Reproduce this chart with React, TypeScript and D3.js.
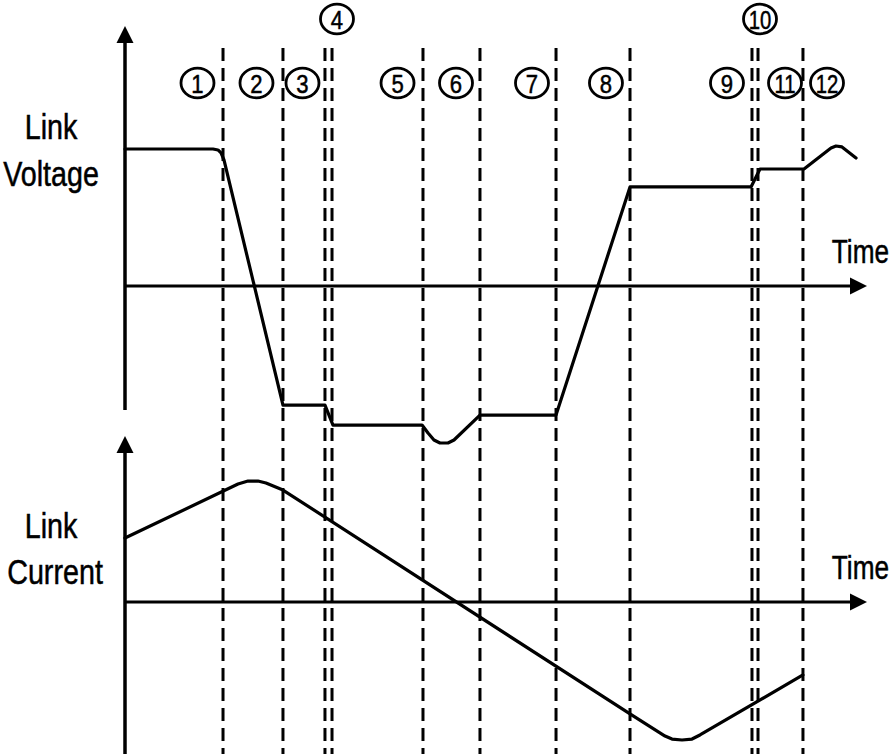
import React from 'react';
import * as d3 from 'd3';

// Phase boundary times (dashed vertical lines), in arbitrary time units 0..100
const boundaryTimes = [13.21, 21.29, 26.95, 27.9, 40.16, 47.84, 58.09, 68.06, 84.5, 85.31, 91.37];

// Circled phase labels
const phaseLabels = ['1', '2', '3', '4', '5', '6', '7', '8', '9', '10', '11', '12'];
const phaseLabelTimes = [9.77, 17.72, 23.92, 28.57, 36.73, 44.61, 54.85, 64.82, 81.13, 85.58, 88.95, 94.61];
const phaseLabelRaised = [false, false, false, true, false, false, false, false, false, true, false, false];

// Link voltage waveform (normalised: 1 = initial level)
const voltageTimes = [0, 11.86, 12.53, 12.94, 13.34, 21.29, 26.95, 28.03, 40.03, 40.84, 41.64, 42.45, 43.53, 44.34, 47.84, 58.09, 68.06, 84.37, 85.58, 91.51, 95.15, 95.82, 96.63, 98.52];
const voltageValues = [1.0, 1.0, 0.993, 0.971, 0.92, -0.869, -0.869, -1.015, -1.015, -1.073, -1.124, -1.146, -1.146, -1.124, -0.942, -0.942, 0.723, 0.723, 0.854, 0.854, 1.007, 1.022, 1.015, 0.934];

// Link current waveform (normalised: 1 = peak)
const currentTimes = [0, 15.23, 16.58, 17.92, 19.0, 21.29, 68.06, 72.78, 73.72, 75.07, 76.42, 77.49, 91.37];
const currentValues = [0.533, 0.983, 1.008, 1.008, 0.992, 0.933, -0.933, -1.117, -1.142, -1.15, -1.142, -1.108, -0.608];

const W = 894;
const H = 754;
const FONT = "'Liberation Sans', Arial, sans-serif";

function NarrowText(props: { x: number; y: number; size: number; sx: number; anchor: string; children: string }) {
  const { x, y, size, sx, anchor, children } = props;
  return (
    <text transform={`translate(${x},${y}) scale(${sx},1)`} textAnchor={anchor} fontFamily={FONT}
      fontSize={size} fill="#000" stroke="#000" strokeWidth={0.5}>{children}</text>
  );
}

export default function App() {
  const x = d3.scaleLinear().domain([0, 100]).range([125, 867]);
  const yV = d3.scaleLinear().domain([0, 1]).range([286, 149]);
  const yI = d3.scaleLinear().domain([0, 1]).range([602, 482]);

  const vPts: [number, number][] = voltageTimes.map((t, i) => [x(t), yV(voltageValues[i])]);
  const iPts: [number, number][] = currentTimes.map((t, i) => [x(t), yI(currentValues[i])]);
  const line = d3.line();

  const axisX = x(0);
  const tipX = x(100);
  const yV0 = yV(0);
  const yI0 = yI(0);

  const upTop = 26;
  const upBottom = 410;
  const loTop = 436;
  const loBottom = H;

  const head = 17;
  const halfW = 8.5;

  const stroke = '#000';

  return (
    <svg width={W} height={H} viewBox={`0 0 ${W} ${H}`} style={{ position: 'absolute', left: 0, top: 0, display: 'block', background: '#fff' }}>
      <rect x={0} y={0} width={W} height={H} fill="#fff" />

      {/* dashed phase boundaries */}
      {boundaryTimes.map((t, i) => (
        <line key={'b' + i} x1={x(t)} x2={x(t)} y1={48} y2={H} stroke={stroke} strokeWidth={3} strokeDasharray="13 7" />
      ))}

      {/* upper vertical axis */}
      <line x1={axisX} x2={axisX} y1={upTop + head - 1} y2={upBottom} stroke={stroke} strokeWidth={3.5} />
      <path d={`M${axisX},${upTop} L${axisX - halfW},${upTop + head} L${axisX + halfW},${upTop + head} Z`} fill={stroke} />
      {/* upper time axis */}
      <line x1={axisX} x2={tipX - head + 1} y1={yV0} y2={yV0} stroke={stroke} strokeWidth={3} />
      <path d={`M${tipX},${yV0} L${tipX - head},${yV0 - halfW} L${tipX - head},${yV0 + halfW} Z`} fill={stroke} />

      {/* lower vertical axis */}
      <line x1={axisX} x2={axisX} y1={loTop + head - 1} y2={loBottom} stroke={stroke} strokeWidth={3.5} />
      <path d={`M${axisX},${loTop} L${axisX - halfW},${loTop + head} L${axisX + halfW},${loTop + head} Z`} fill={stroke} />
      {/* lower time axis */}
      <line x1={axisX} x2={tipX - head + 1} y1={yI0} y2={yI0} stroke={stroke} strokeWidth={3} />
      <path d={`M${tipX},${yI0} L${tipX - head},${yI0 - halfW} L${tipX - head},${yI0 + halfW} Z`} fill={stroke} />

      {/* waveforms */}
      <path d={line(vPts) || ''} fill="none" stroke={stroke} strokeWidth={3.2} strokeLinejoin="round" strokeLinecap="round" />
      <path d={line(iPts) || ''} fill="none" stroke={stroke} strokeWidth={3.2} strokeLinejoin="round" strokeLinecap="round" />

      {/* circled phase labels */}
      {phaseLabels.map((lab, i) => {
        const cx = x(phaseLabelTimes[i]);
        const cy = phaseLabelRaised[i] ? 19 : 83;
        return (
          <g key={'p' + i}>
            <ellipse cx={cx} cy={cy} rx={16.5} ry={14.8} fill="none" stroke={stroke} strokeWidth={2.8} />
            <NarrowText x={cx} y={cy + 9.5} size={26} sx={lab.length > 1 ? 0.78 : 0.85} anchor="middle">{lab}</NarrowText>
          </g>
        );
      })}

      {/* axis labels */}
      <NarrowText x={51} y={139} size={35} sx={0.82} anchor="middle">Link</NarrowText>
      <NarrowText x={51} y={186} size={35} sx={0.82} anchor="middle">Voltage</NarrowText>
      <NarrowText x={51} y={538} size={35} sx={0.82} anchor="middle">Link</NarrowText>
      <NarrowText x={55} y={584} size={35} sx={0.82} anchor="middle">Current</NarrowText>
      <NarrowText x={889} y={263} size={34} sx={0.77} anchor="end">Time</NarrowText>
      <NarrowText x={889} y={579} size={34} sx={0.77} anchor="end">Time</NarrowText>
    </svg>
  );
}
